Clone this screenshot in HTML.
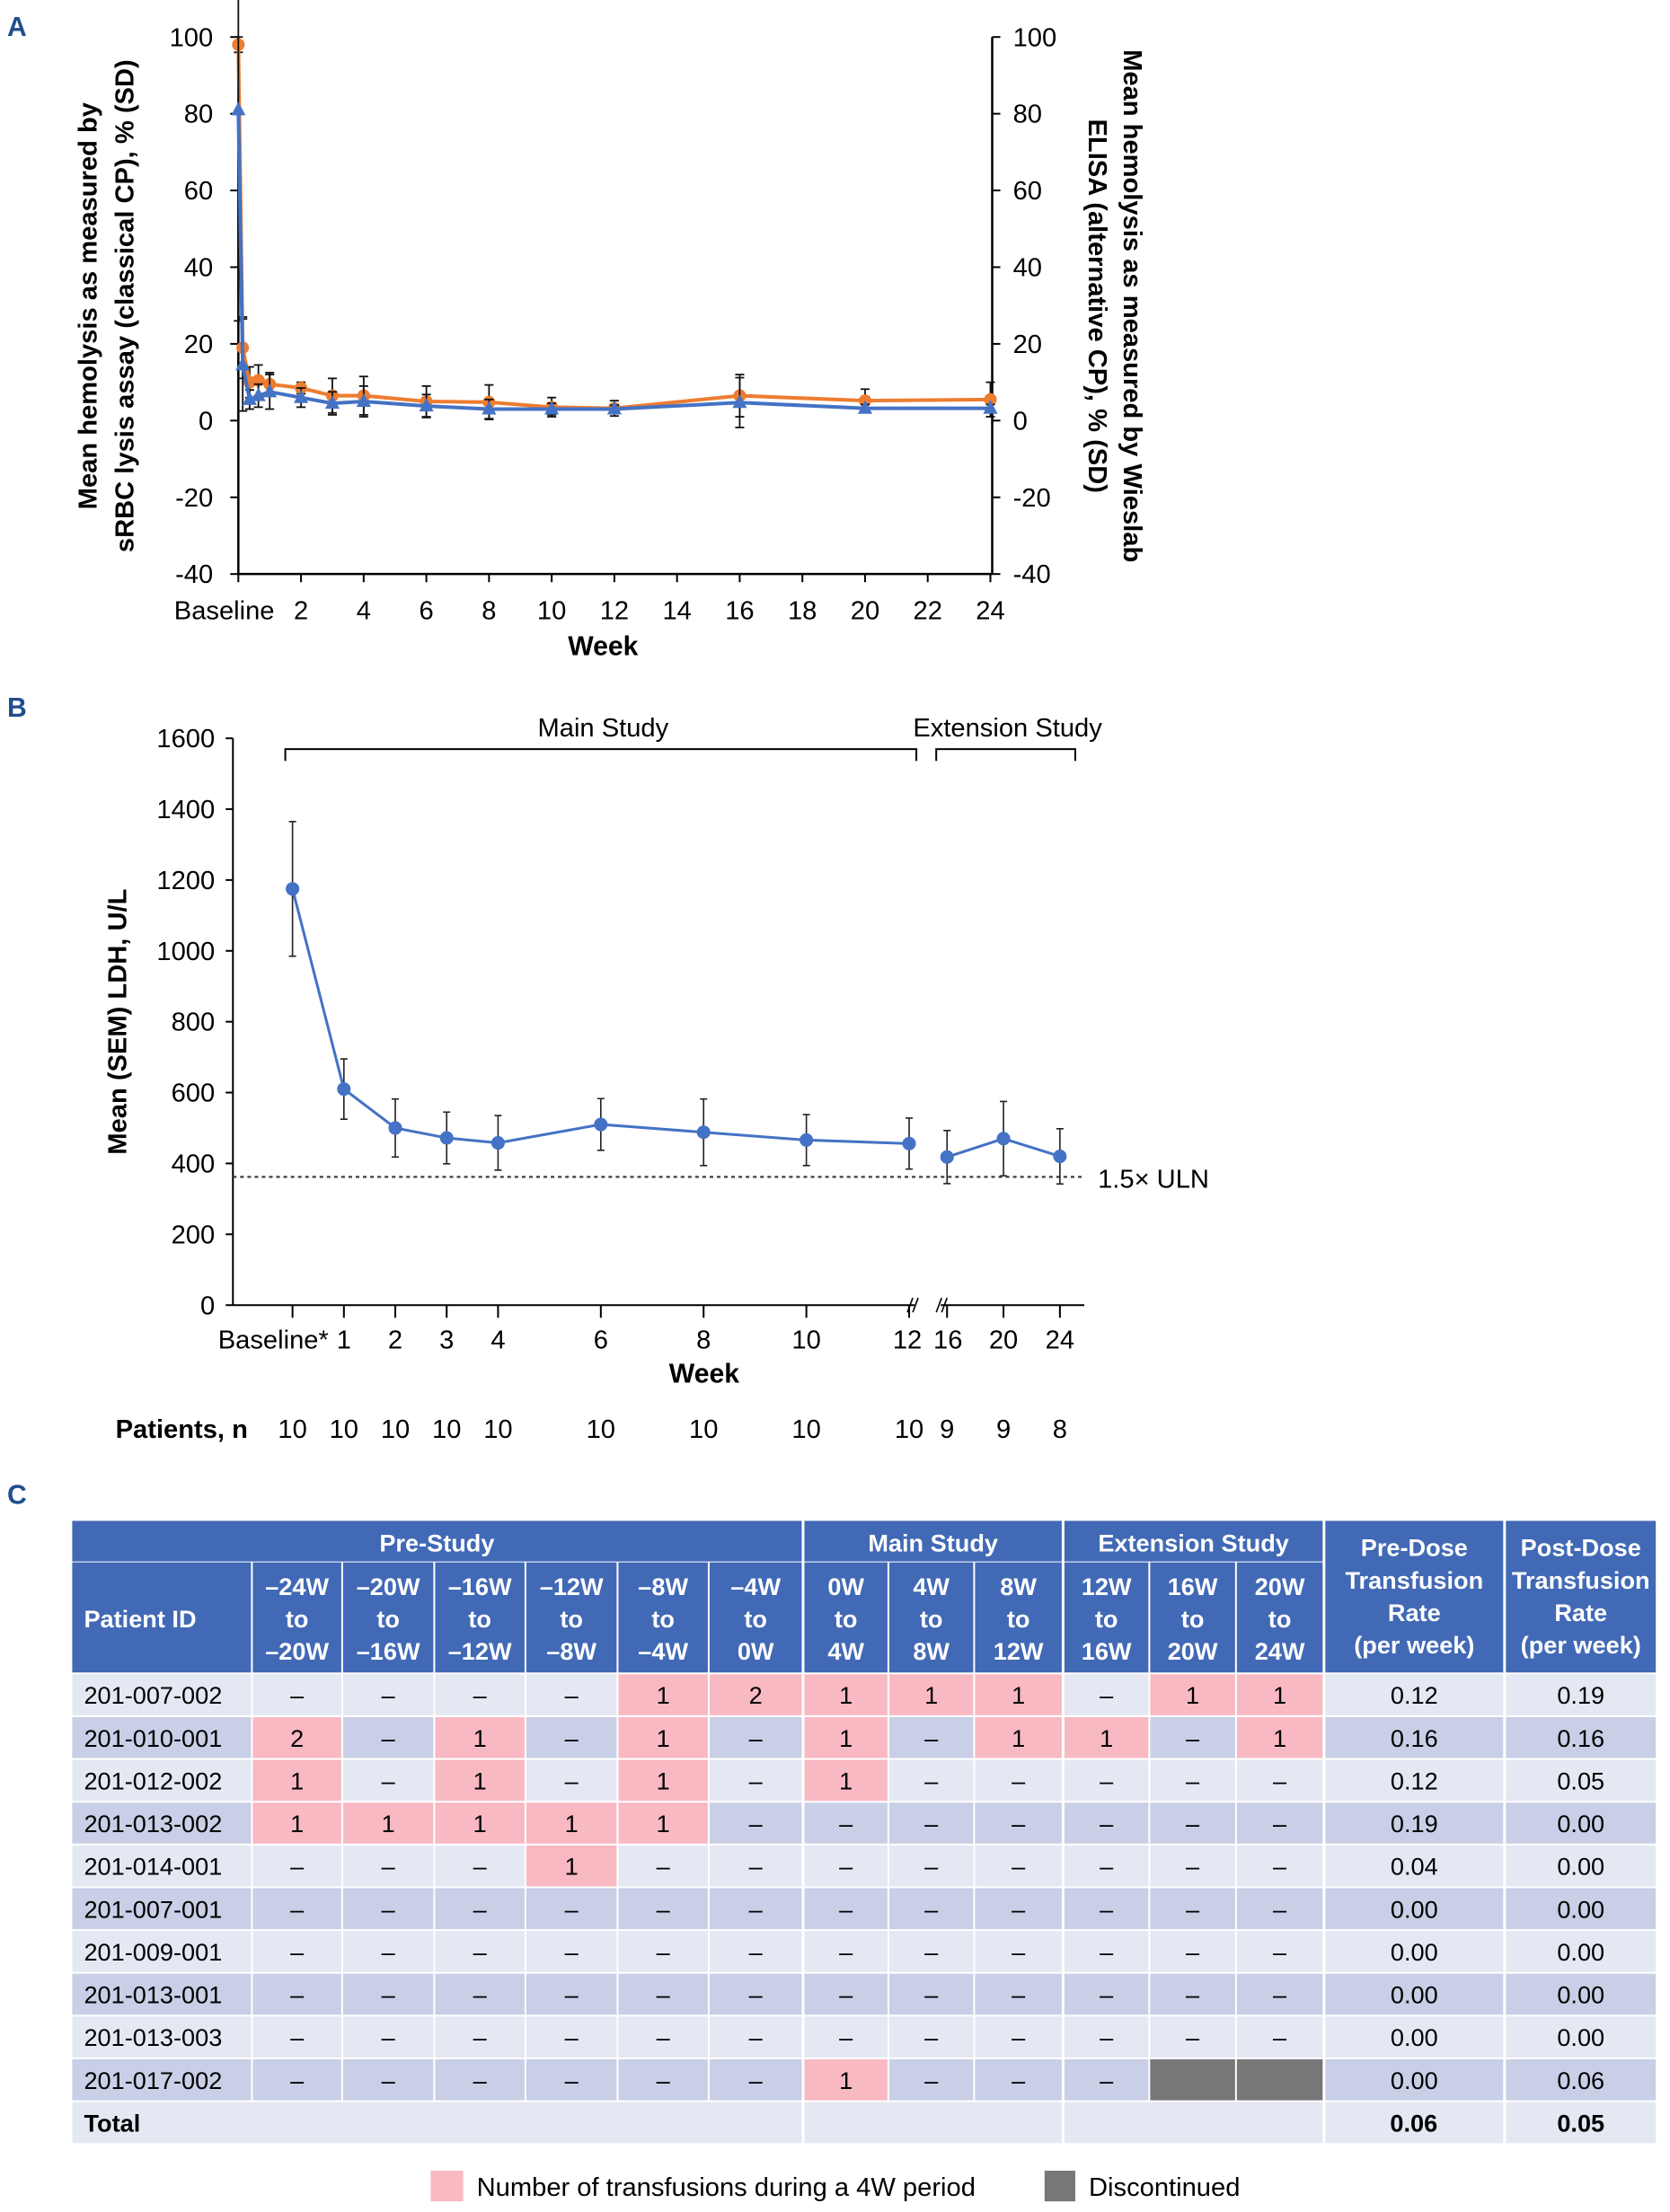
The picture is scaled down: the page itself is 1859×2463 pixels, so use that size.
<!DOCTYPE html>
<html><head><meta charset="utf-8"><style>
html,body{margin:0;padding:0;background:#fff;}
svg{display:block;font-family:"Liberation Sans",Arial,sans-serif;}
</style></head><body>
<svg id="fig" width="1859" height="2463" viewBox="0 0 1859 2463" xmlns="http://www.w3.org/2000/svg">
<g transform="scale(1.005)">
<text x="8" y="40" font-size="30" font-weight="bold" fill="#1f4e8c">A</text>
<text x="8" y="794" font-size="30" font-weight="bold" fill="#1f4e8c">B</text>
<text x="8" y="1666" font-size="30" font-weight="bold" fill="#1f4e8c">C</text>
<g id="chartA"></g>
<g id="chartB"></g>
<g id="tableC"></g>
</g>
</svg>
<script>
// ---------- Panel A data ----------
const aWeeks = [0, 0.14, 0.36, 0.64, 1, 2, 3, 4, 6, 8, 10, 12, 16, 20, 24];
const aOrange = [98, 19, 10, 10.5, 9.5, 8.5, 6.5, 6.5, 5, 4.8, 3.5, 3.2, 6.5, 5.2, 5.5];
const aOrangeSD = [2, 8, 4, 4, 3, 1.5, 4.5, 5, 4, 4.5, 2.5, 2, 5.5, 3, 4.5];
const aBlue = [81, 14.5, 5.5, 6.5, 7.5, 6, 4.5, 5, 3.8, 3, 3, 3, 4.7, 3.2, 3.2];
const aBlueSD = [55, 12, 2.5, 3, 4.5, 2.5, 3, 4, 3, 2.5, 1.5, 1, 6.5, 1, 1];
const aYTicks = [100, 80, 60, 40, 20, 0, -20, -40];
const aXTicks = [2, 4, 6, 8, 10, 12, 14, 16, 18, 20, 22, 24];

// ---------- Panel B data ----------
const bWeeks = [0, 1, 2, 3, 4, 6, 8, 10, 12, 16, 20, 24];
const bTickLabels = ["Baseline*", "1", "2", "3", "4", "6", "8", "10", "12", "16", "20", "24"];
const bMeans = [1175, 610, 500, 472, 458, 510, 488, 466, 456, 418, 470, 420];
const bSEM = [190, 85, 82, 73, 77, 73, 94, 72, 72, 75, 105, 78];
const bPatients = [10, 10, 10, 10, 10, 10, 10, 10, 10, 9, 9, 8];
const bYTicks = [0, 200, 400, 600, 800, 1000, 1200, 1400, 1600];
const bULN = 362;

// ---------- Panel C data ----------
const cPatients = ["201-007-002","201-010-001","201-012-002","201-013-002","201-014-001","201-007-001","201-009-001","201-013-001","201-013-003","201-017-002"];
const cCounts = [
 ["–","–","–","–","1","2","1","1","1","–","1","1"],
 ["2","–","1","–","1","–","1","–","1","1","–","1"],
 ["1","–","1","–","1","–","1","–","–","–","–","–"],
 ["1","1","1","1","1","–","–","–","–","–","–","–"],
 ["–","–","–","1","–","–","–","–","–","–","–","–"],
 ["–","–","–","–","–","–","–","–","–","–","–","–"],
 ["–","–","–","–","–","–","–","–","–","–","–","–"],
 ["–","–","–","–","–","–","–","–","–","–","–","–"],
 ["–","–","–","–","–","–","–","–","–","–","–","–"],
 ["–","–","–","–","–","–","1","–","–","–","D","D"]
];
const cPreRate = ["0.12","0.16","0.12","0.19","0.04","0.00","0.00","0.00","0.00","0.00"];
const cPostRate = ["0.19","0.16","0.05","0.00","0.00","0.00","0.00","0.00","0.00","0.06"];
const cTotals = ["0.06","0.05"];
const cPeriodTop = ["–24W","–20W","–16W","–12W","–8W","–4W","0W","4W","8W","12W","16W","20W"];
const cPeriodBot = ["–20W","–16W","–12W","–8W","–4W","0W","4W","8W","12W","16W","20W","24W"];

const NS = "http://www.w3.org/2000/svg";
function el(parent, tag, attrs, text) {
  const e = document.createElementNS(NS, tag);
  for (const k in attrs) e.setAttribute(k, attrs[k]);
  if (text !== undefined) e.textContent = text;
  parent.appendChild(e);
  return e;
}

// ================= Panel A =================
(function(){
  const g = document.getElementById('chartA');
  const x0 = 264, x1 = 1097, yTop = 41, yBot = 636;
  const xs = w => x0 + (x1 - x0) * w / 24;
  const ys = v => yTop + (100 - v) * (yBot - yTop) / 140;
  let e;
  e = el(g, 'line', {x1:x0, y1:yTop, x2:x0, y2:yBot, stroke:'#000', 'stroke-width':2.5});
   
  e = el(g, 'line', {x1:x1+2, y1:yTop, x2:x1+2, y2:yBot, stroke:'#000', 'stroke-width':2.5});
   
  e = el(g, 'line', {x1:x0, y1:yBot, x2:x1+2, y2:yBot, stroke:'#000', 'stroke-width':2.5});
   
  aYTicks.forEach(v => {
    el(g, 'line', {x1:x0-9, y1:ys(v), x2:x0, y2:ys(v), stroke:'#000', 'stroke-width':2});
    el(g, 'line', {x1:x1+2, y1:ys(v), x2:x1+11, y2:ys(v), stroke:'#000', 'stroke-width':2});
    e = el(g, 'text', {x:236, y:ys(v)+10, 'font-size':29, 'text-anchor':'end'}, v);
     
    e = el(g, 'text', {x:1122, y:ys(v)+10, 'font-size':29, 'text-anchor':'start'}, v);
     
  });
  el(g, 'line', {x1:x0, y1:yBot, x2:x0, y2:yBot+9, stroke:'#000', 'stroke-width':2});
  e = el(g, 'text', {x:xs(0)+40, y:686, 'font-size':29, 'text-anchor':'end'}, 'Baseline');
   
  aXTicks.forEach(w => {
    el(g, 'line', {x1:xs(w), y1:yBot, x2:xs(w), y2:yBot+9, stroke:'#000', 'stroke-width':2});
    e = el(g, 'text', {x:xs(w), y:686, 'font-size':29, 'text-anchor':'middle'}, w);
     
  });
  e = el(g, 'text', {x:668, y:726, 'font-size':30, 'font-weight':'bold', 'text-anchor':'middle'}, 'Week');
   
  e = el(g, 'text', {transform:'translate(107,339) rotate(-90)', 'font-size':29, 'font-weight':'bold', 'text-anchor':'middle'}, 'Mean hemolysis as measured by');
   
  e = el(g, 'text', {transform:'translate(148,339) rotate(-90)', 'font-size':29, 'font-weight':'bold', 'text-anchor':'middle'}, 'sRBC lysis assay (classical CP), % (SD)');
   
  e = el(g, 'text', {transform:'translate(1245,339) rotate(90)', 'font-size':29, 'font-weight':'bold', 'text-anchor':'middle'}, 'Mean hemolysis as measured by Wieslab');
   
  e = el(g, 'text', {transform:'translate(1206,339) rotate(90)', 'font-size':29, 'font-weight':'bold', 'text-anchor':'middle'}, 'ELISA (alternative CP), % (SD)');
   

  function series(vals, sds, color, marker, name) {
    aWeeks.forEach((w, i) => {
      const x = xs(w);
      el(g, 'line', {x1:x, y1:ys(vals[i]+sds[i]), x2:x, y2:ys(vals[i]-sds[i]), stroke:'#111', 'stroke-width':1.8});
      el(g, 'line', {x1:x-5, y1:ys(vals[i]+sds[i]), x2:x+5, y2:ys(vals[i]+sds[i]), stroke:'#111', 'stroke-width':1.8});
      el(g, 'line', {x1:x-5, y1:ys(vals[i]-sds[i]), x2:x+5, y2:ys(vals[i]-sds[i]), stroke:'#111', 'stroke-width':1.8});
    });
    const pts = aWeeks.map((w, i) => xs(w) + ',' + ys(vals[i])).join(' ');
    let p = el(g, 'polyline', {points:pts, fill:'none', stroke:color, 'stroke-width':4});
     
    aWeeks.forEach((w, i) => {
      const x = xs(w), y = ys(vals[i]);
      let m;
      if (marker === 'circle') m = el(g, 'circle', {cx:x, cy:y, r:7, fill:color});
      else m = el(g, 'polygon', {points:`${x},${y-9} ${x-8},${y+6} ${x+8},${y+6}`, fill:color});
       
    });
  }
  series(aOrange, aOrangeSD, '#ed7d31', 'circle', 'srbc-series');
  series(aBlue, aBlueSD, '#4472c4', 'triangle', 'wieslab-series');
})();

// ================= Panel B =================
(function(){
  const g = document.getElementById('chartB');
  const xL = 258, xR = 1201, y0 = 1446, yTop = 818;
  const ys = v => y0 - v * (y0 - yTop) / 1600;
  const xs = w => w <= 12 ? 324 + w * (1007 - 324) / 12 : 1049 + (w - 16) * (1174 - 1049) / 8;
  let e;
  e = el(g, 'line', {x1:xL, y1:yTop, x2:xL, y2:y0, stroke:'#000', 'stroke-width':2});
   
  e = el(g, 'line', {x1:xL, y1:y0, x2:1013, y2:y0, stroke:'#000', 'stroke-width':2});
   
  e = el(g, 'line', {x1:1042, y1:y0, x2:xR, y2:y0, stroke:'#000', 'stroke-width':2});
   
  [1008, 1014, 1040, 1046].forEach(bx => el(g, 'line', {x1:bx-3, y1:y0+8, x2:bx+3, y2:y0-8, stroke:'#000', 'stroke-width':1.6}));
  bYTicks.forEach(v => {
    el(g, 'line', {x1:xL-8, y1:ys(v), x2:xL, y2:ys(v), stroke:'#000', 'stroke-width':2});
    e = el(g, 'text', {x:238, y:ys(v)+10, 'font-size':29, 'text-anchor':'end'}, v);
     
  });
  bWeeks.forEach((w, i) => {
    const x = xs(w);
    el(g, 'line', {x1:x, y1:y0, x2:x, y2:y0+14, stroke:'#000', 'stroke-width':2});
    let tx = x, anchor = 'middle';
    if (i === 0) { tx = x + 40; anchor = 'end'; }
    if (w === 12) { tx = x - 2; }
    if (w === 16) { tx = x + 1; }
    e = el(g, 'text', {x:tx, y:1494, 'font-size':29, 'text-anchor':anchor}, bTickLabels[i]);
     
    e = el(g, 'text', {x:x, y:1593, 'font-size':29, 'text-anchor':'middle'}, bPatients[i]);
     
  });
  e = el(g, 'text', {x:780, y:1532, 'font-size':30, 'font-weight':'bold', 'text-anchor':'middle'}, 'Week');
   
  e = el(g, 'text', {x:128, y:1593, 'font-size':29, 'font-weight':'bold'}, 'Patients, n');
   
  e = el(g, 'text', {transform:'translate(140,1132) rotate(-90)', 'font-size':29, 'font-weight':'bold', 'text-anchor':'middle'}, 'Mean (SEM) LDH, U/L');
   
  e = el(g, 'line', {x1:xL, y1:ys(bULN), x2:xR, y2:ys(bULN), stroke:'#333', 'stroke-width':2, 'stroke-dasharray':'4,4'});
   
  e = el(g, 'text', {x:1216, y:ys(bULN)+12, 'font-size':29}, '1.5× ULN');
   
  e = el(g, 'path', {d:'M316,843 V830 H1015 V843', fill:'none', stroke:'#000', 'stroke-width':2});
   
  e = el(g, 'path', {d:'M1037,843 V830 H1191 V843', fill:'none', stroke:'#000', 'stroke-width':2});
   
  e = el(g, 'text', {x:668, y:816, 'font-size':29, 'text-anchor':'middle'}, 'Main Study');
   
  e = el(g, 'text', {x:1116, y:816, 'font-size':29, 'text-anchor':'middle'}, 'Extension Study');
   
  bWeeks.forEach((w, i) => {
    const x = xs(w), hi = ys(bMeans[i] + bSEM[i]), lo = ys(bMeans[i] - bSEM[i]);
    e = el(g, 'path', {d:`M${x},${hi} V${lo} M${x-4},${hi} H${x+4} M${x-4},${lo} H${x+4}`, stroke:'#222', 'stroke-width':1.6, fill:'none'});
     
  });
  const pts1 = bWeeks.slice(0, 9).map((w, i) => xs(w) + ',' + ys(bMeans[i])).join(' ');
  const pts2 = bWeeks.slice(9).map((w, i) => xs(w) + ',' + ys(bMeans[i + 9])).join(' ');
  e = el(g, 'polyline', {points:pts1, fill:'none', stroke:'#4472c4', 'stroke-width':3});
   
  e = el(g, 'polyline', {points:pts2, fill:'none', stroke:'#4472c4', 'stroke-width':3});
   
  bWeeks.forEach((w, i) => {
    e = el(g, 'circle', {cx:xs(w), cy:ys(bMeans[i]), r:7.5, fill:'#4472c4'});
     
  });
})();

// ================= Panel C =================
(function(){
  const g = document.getElementById('tableC');
  const cols = [[80,278],[280,378],[380,480],[482,581],[583,683],[685,784],[786,888],
                [891,983],[985,1078],[1080,1176],[1179,1272],[1274,1368],[1370,1465],[1468,1665],[1668,1834]];
  const hdr = '#4169b5', light = '#e4e8f2', dark = '#c8cfe6', pink = '#f8b9c3', grey = '#777777';
  const top = 1685, r1 = 1731, r2 = 1853, rowH = 47.4;
  let e;
  const groups = [[80,888,'Pre-Study'],[891,1176,'Main Study'],[1179,1465,'Extension Study']];
  groups.forEach(gr => {
    e = el(g, 'rect', {x:gr[0], y:top, width:gr[1]-gr[0], height:r1-top-1, fill:hdr});
     
    e = el(g, 'text', {x:(gr[0]+gr[1])/2, y:1719, 'font-size':27, 'font-weight':'bold', fill:'#fff', 'text-anchor':'middle'}, gr[2]);
     
  });
  e = el(g, 'rect', {x:80, y:r1, width:198, height:r2-r1, fill:hdr});
   
  e = el(g, 'text', {x:93, y:1803, 'font-size':27, 'font-weight':'bold', fill:'#fff'}, 'Patient ID');
   
  for (let c = 0; c < 12; c++) {
    const [a, b] = cols[c + 1];
    e = el(g, 'rect', {x:a, y:r1, width:b-a, height:r2-r1, fill:hdr});
     
    const cx = (a + b) / 2;
    el(g, 'text', {x:cx, y:1767, 'font-size':27, 'font-weight':'bold', fill:'#fff', 'text-anchor':'middle'}, cPeriodTop[c]);
    el(g, 'text', {x:cx, y:1803, 'font-size':27, 'font-weight':'bold', fill:'#fff', 'text-anchor':'middle'}, 'to');
    el(g, 'text', {x:cx, y:1839, 'font-size':27, 'font-weight':'bold', fill:'#fff', 'text-anchor':'middle'}, cPeriodBot[c]);
  }
  [[13,'Pre-Dose'],[14,'Post-Dose']].forEach(([ci, t]) => {
    const [a, b] = cols[ci], cx = (a + b) / 2;
    e = el(g, 'rect', {x:a, y:top, width:b-a, height:r2-top, fill:hdr});
     
    el(g, 'text', {x:cx, y:1724, 'font-size':27, 'font-weight':'bold', fill:'#fff', 'text-anchor':'middle'}, t);
    el(g, 'text', {x:cx, y:1760, 'font-size':27, 'font-weight':'bold', fill:'#fff', 'text-anchor':'middle'}, 'Transfusion');
    el(g, 'text', {x:cx, y:1796, 'font-size':27, 'font-weight':'bold', fill:'#fff', 'text-anchor':'middle'}, 'Rate');
    el(g, 'text', {x:cx, y:1832, 'font-size':27, 'font-weight':'bold', fill:'#fff', 'text-anchor':'middle'}, '(per week)');
  });
  cPatients.forEach((pid, r) => {
    const y = r2 + 2 + r * rowH, h = rowH - 2, base = r % 2 === 0 ? light : dark, ty = y + h / 2 + 10;
    e = el(g, 'rect', {x:80, y:y, width:198, height:h, fill:base});
     
    e = el(g, 'text', {x:93, y:ty, 'font-size':27}, pid);
     
    for (let c = 0; c < 12; c++) {
      const [a, b] = cols[c + 1], v = cCounts[r][c];
      const fill = v === 'D' ? grey : (v !== '–' ? pink : base);
      e = el(g, 'rect', {x:a, y:y, width:b-a, height:h, fill:fill});
       
      if (v !== 'D') el(g, 'text', {x:(a+b)/2, y:ty, 'font-size':27, 'text-anchor':'middle'}, v);
    }
    [[13, cPreRate[r]], [14, cPostRate[r]]].forEach(([ci, t]) => {
      const [a, b] = cols[ci];
      e = el(g, 'rect', {x:a, y:y, width:b-a, height:h, fill:base});
       
      el(g, 'text', {x:(a+b)/2, y:ty, 'font-size':27, 'text-anchor':'middle'}, t);
    });
  });
  const ty0 = r2 + 2 + 10 * rowH, th = rowH - 2, tty = ty0 + th / 2 + 10;
  [[80,888],[891,1176],[1179,1465],[1468,1665],[1668,1834]].forEach(([a,b]) => {
    e = el(g, 'rect', {x:a, y:ty0, width:b-a, height:th, fill:light});
     
  });
  e = el(g, 'text', {x:93, y:tty, 'font-size':27, 'font-weight':'bold'}, 'Total');
   
  e = el(g, 'text', {x:1566, y:tty, 'font-size':27, 'font-weight':'bold', 'text-anchor':'middle'}, cTotals[0]);
   
  e = el(g, 'text', {x:1751, y:tty, 'font-size':27, 'font-weight':'bold', 'text-anchor':'middle'}, cTotals[1]);
   
  e = el(g, 'rect', {x:477, y:2405, width:36, height:34, fill:pink});
   
  e = el(g, 'text', {x:528, y:2433, 'font-size':29}, 'Number of transfusions during a 4W period');
   
  e = el(g, 'rect', {x:1157, y:2405, width:34, height:34, fill:grey});
   
  e = el(g, 'text', {x:1206, y:2433, 'font-size':29}, 'Discontinued');
   
})();
</script>
</body></html>
